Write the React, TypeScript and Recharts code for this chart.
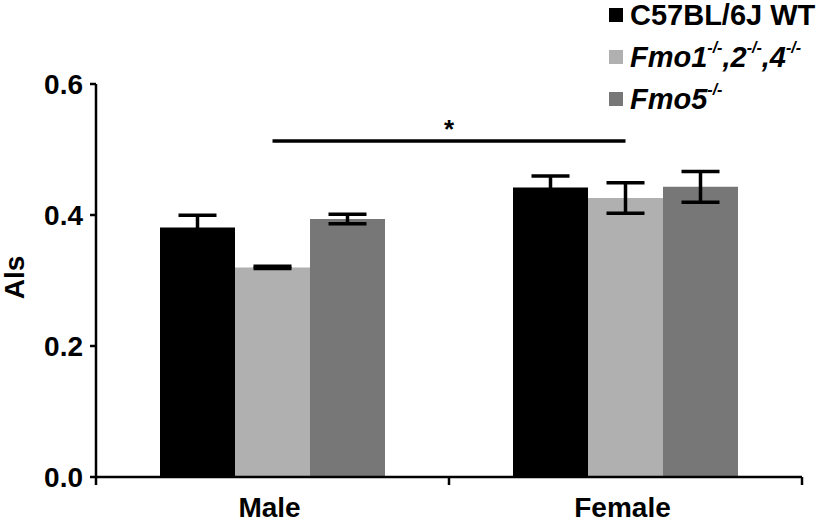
import React from 'react';
import { BarChart, Bar, XAxis, YAxis, ErrorBar, ReferenceLine } from 'recharts';

const categories = ['Male', 'Female'];
const wtValues = [0.381, 0.442];
const wtErrors = [0.0185, 0.0175];
const tkoValues = [0.32, 0.426];
const tkoErrors = [0.0017, 0.0234];
const fmo5Values = [0.394, 0.443];
const fmo5Errors = [0.0073, 0.0234];
const yTicks = [0, 0.2, 0.4, 0.6];
const sigLevel = 0.513;

// legend names: [text, superscript] pieces
const series = [
  { key: 'wt', color: '#000000', italic: false, name: [['C57BL/6J WT', '']] },
  { key: 'tko', color: '#b0b0b0', italic: true, name: [['Fmo1', '-/-'], [',2', '-/-'], [',4', '-/-']] },
  { key: 'fmo5', color: '#777777', italic: true, name: [['Fmo5', '-/-']] },
];

const data = categories.map((c, i) => ({
  name: c,
  wt: wtValues[i], wtErr: wtErrors[i],
  tko: tkoValues[i], tkoErr: tkoErrors[i],
  fmo5: fmo5Values[i], fmo5Err: fmo5Errors[i],
}));

const font = '"Liberation Sans", Arial, Helvetica, sans-serif';
const axisStroke = { stroke: '#000', strokeWidth: 2.5 };

// category name plus tick marks on the group boundaries (Prism style)
const XTick = (props: any) => {
  const { x, y, payload, index } = props;
  const half = payload.offset || 176.5;
  return (
    <g>
      {index === 0 && <line x1={x - half} x2={x - half} y1={y} y2={y + 8} stroke="#000" strokeWidth={2.5} />}
      <line x1={x + half} x2={x + half} y1={y} y2={y + 8} stroke="#000" strokeWidth={2.5} />
      <text x={x - 3} y={y + 40} textAnchor="middle" fontSize={28} fontWeight="bold" fontFamily={font} fill="#000">
        {payload.value}
      </text>
    </g>
  );
};

const Legend = () => (
  <div style={{ position: 'absolute', left: 609, top: -6, fontFamily: font, fontWeight: 'bold', fontSize: 29, color: '#000' }}>
    {series.map((s) => (
      <div key={s.key} style={{ display: 'flex', alignItems: 'center', height: 42, whiteSpace: 'nowrap' }}>
        <span style={{ width: 14, height: 14, background: s.color, display: 'inline-block', marginRight: 7 }} />
        <span style={{ fontStyle: s.italic ? 'italic' : 'normal' }}>
          {s.name.map(([t, sup], j) => (
            <React.Fragment key={j}>
              {t}
              {sup && <sup style={{ fontSize: 16, verticalAlign: 'top', position: 'relative', top: -2 }}>{sup}</sup>}
            </React.Fragment>
          ))}
        </span>
      </div>
    ))}
  </div>
);

export default function App() {
  return (
    <div style={{ position: 'absolute', left: 0, top: 0, width: 826, height: 525, background: '#fff' }}>
      <BarChart width={826} height={525} data={data} margin={{ top: 84, right: 24, bottom: 0, left: 0 }} barGap={0} barSize={75}>
        <XAxis dataKey="name" height={48} tickSize={0} tickMargin={0} tickLine={false} axisLine={axisStroke}
          interval={0} tick={<XTick />} />
        <YAxis domain={[0, 0.6]} ticks={yTicks} width={96} tickSize={6} tickMargin={7}
          tickFormatter={(v: number) => v.toFixed(1)} axisLine={axisStroke} tickLine={axisStroke}
          tick={{ fontSize: 28, fontWeight: 'bold', fill: '#000', fontFamily: font }}
          label={{
            value: 'Als',
            content: (p: any) => {
              const vb = p.viewBox;
              const cy = vb.y + vb.height / 2 - 3;
              return (
                <text x={24} y={cy} transform={`rotate(-90, 24, ${cy})`} textAnchor="middle"
                  fontSize={28} fontWeight="bold" fontFamily={font} fill="#000">Als</text>
              );
            },
          }} />
        {series.map((s) => (
          <Bar key={s.key} dataKey={s.key} fill={s.color} isAnimationActive={false}>
            <ErrorBar dataKey={`${s.key}Err`} width={19} stroke="#000" strokeWidth={3.5} isAnimationActive={false} />
          </Bar>
        ))}
        <ReferenceLine segment={[{ x: 'Male', y: sigLevel }, { x: 'Female', y: sigLevel }]}
          stroke="#000" strokeWidth={3.5}
          label={{ value: '*', position: 'top', offset: 3, fontSize: 26, fontWeight: 'bold', fill: '#000', fontFamily: font }} />
      </BarChart>
      <Legend />
    </div>
  );
}
